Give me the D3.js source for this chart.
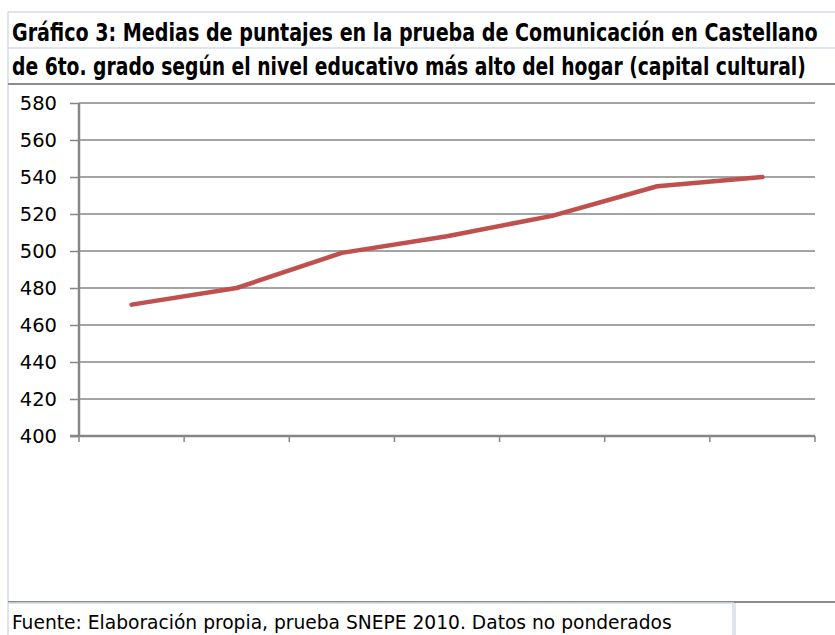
<!DOCTYPE html>
<html>
<head>
<meta charset="utf-8">
<script src="https://cdn.jsdelivr.net/npm/d3@7/dist/d3.min.js"></script>
<style>
  body { margin: 0; background: #fff; }
  svg { display: block; }
</style>
</head>
<body>
<div id="chart"></div>
<script>
var titleLines = [
  "Gráfico 3: Medias de puntajes en la prueba de Comunicación en Castellano",
  "de 6to. grado según el nivel educativo más alto del hogar (capital cultural)"
];
var source = "Fuente: Elaboración propia, prueba SNEPE 2010. Datos no ponderados";

// niveles educativos (sin etiqueta visible en el original)
var niveles = ["n1", "n2", "n3", "n4", "n5", "n6", "n7"];
var medias = [471, 480, 499, 508, 519, 535, 540];
var yTicks = [400, 420, 440, 460, 480, 500, 520, 540, 560, 580];

var width = 835, height = 635;

var svg = d3.select("#chart").append("svg")
    .attr("width", width)
    .attr("height", height);

// scale a text horizontally to a target width
function fitWidth(sel, x0, target) {
  sel.each(function () {
    var w = this.getComputedTextLength();
    var k = target / w;
    d3.select(this)
      .attr("x", 0)
      .attr("transform", "translate(" + x0 + "," + d3.select(this).attr("y") + ")scale(" + k + ",1)")
      .attr("y", 0);
  });
}

// cell borders of the sheet
var cellColor = "#d4dbe6";
svg.append("line").attr("x1", 8).attr("x2", 8).attr("y1", 12).attr("y2", 602)
    .attr("stroke", cellColor).attr("stroke-width", 1.5);
svg.append("line").attr("x1", 8).attr("x2", width).attr("y1", 12).attr("y2", 12)
    .attr("stroke", cellColor).attr("stroke-width", 1.5);
svg.append("line").attr("x1", 8).attr("x2", width).attr("y1", 48).attr("y2", 48)
    .attr("stroke", cellColor).attr("stroke-width", 1.5);

// title
svg.selectAll(".title")
  .data(titleLines)
  .enter().append("text")
    .attr("class", "title")
    .attr("y", function (d, i) { return 41 + i * 34; })
    .style("font-family", "'DejaVu Sans Condensed', 'DejaVu Sans', sans-serif")
    .style("font-weight", "bold")
    .style("font-size", "25px")
    .style("fill", "#000")
    .text(function (d) { return d; })
    .each(function (d, i) { fitWidth(d3.select(this), 12, i === 0 ? 806 : 794); });

svg.append("line").attr("x1", 8).attr("x2", width).attr("y1", 84).attr("y2", 84)
    .attr("stroke", "#8c8c8c").attr("stroke-width", 2);

// chart area
var margin = { left: 79, right: 20, top: 103, bottom: 199 };
var plotW = width - margin.left - margin.right;
var plotH = height - margin.top - margin.bottom;

var g = svg.append("g")
    .attr("transform", "translate(" + margin.left + "," + margin.top + ")");

var x = d3.scaleBand()
    .domain(niveles)
    .range([0, plotW])
    .padding(0);

var y = d3.scaleLinear()
    .domain([400, 580])
    .range([plotH, 0]);

var axisColor = "#868686";

// gridlines
g.append("g")
  .selectAll("line")
  .data(yTicks.filter(function (t) { return t > 400; }))
  .enter().append("line")
    .attr("x1", 0)
    .attr("x2", plotW)
    .attr("y1", function (d) { return y(d); })
    .attr("y2", function (d) { return y(d); })
    .attr("stroke", axisColor)
    .attr("stroke-width", 1.5);

// y axis
var yAxis = g.append("g")
    .call(d3.axisLeft(y).tickValues(yTicks).tickSize(9).tickPadding(13).tickFormat(d3.format("d")));
yAxis.select(".domain").remove();
yAxis.selectAll(".tick line").attr("stroke", axisColor).attr("stroke-width", 1.5);
yAxis.selectAll("text")
    .style("font-family", "'DejaVu Sans', Verdana, sans-serif")
    .style("font-size", "19.5px")
    .style("fill", "#000");
g.append("line").attr("x1", 0).attr("x2", 0).attr("y1", 0).attr("y2", plotH)
    .attr("stroke", axisColor).attr("stroke-width", 2.5);

// x axis (ticks on category boundaries, no labels)
var xBounds = niveles.map(function (d) { return x(d); }).concat([plotW]);
g.append("g")
  .selectAll("line")
  .data(xBounds)
  .enter().append("line")
    .attr("x1", function (d) { return d; })
    .attr("x2", function (d) { return d; })
    .attr("y1", plotH)
    .attr("y2", plotH + 6)
    .attr("stroke", axisColor)
    .attr("stroke-width", 1.5);
g.append("line").attr("x1", -9).attr("x2", plotW).attr("y1", plotH).attr("y2", plotH)
    .attr("stroke", axisColor).attr("stroke-width", 2.5);

// series line
var line = d3.line()
    .x(function (d, i) { return x(niveles[i]) + x.bandwidth() / 2; })
    .y(function (d) { return y(d); });

g.append("path")
    .datum(medias)
    .attr("d", line)
    .attr("fill", "none")
    .attr("stroke", "#c0504d")
    .attr("stroke-width", 4.5)
    .attr("stroke-linecap", "round")
    .attr("stroke-linejoin", "round");

// bottom band with source note
svg.append("line").attr("x1", 8).attr("x2", width).attr("y1", 602).attr("y2", 602)
    .attr("stroke", "#8c8c8c").attr("stroke-width", 2);
svg.append("rect")
    .attr("x", 8).attr("y", 603).attr("width", 725).attr("height", 40)
    .attr("fill", "none").attr("stroke", cellColor).attr("stroke-width", 1.5);
svg.append("line").attr("x1", 735).attr("x2", 735).attr("y1", 603).attr("y2", height)
    .attr("stroke", cellColor).attr("stroke-width", 1.5);

svg.append("text")
    .attr("y", 629)
    .style("font-family", "'DejaVu Sans Condensed', 'DejaVu Sans', sans-serif")
    .style("font-size", "19.5px")
    .style("fill", "#000")
    .text(source)
    .each(function () { fitWidth(d3.select(this), 12, 660); });
</script>
</body>
</html>
